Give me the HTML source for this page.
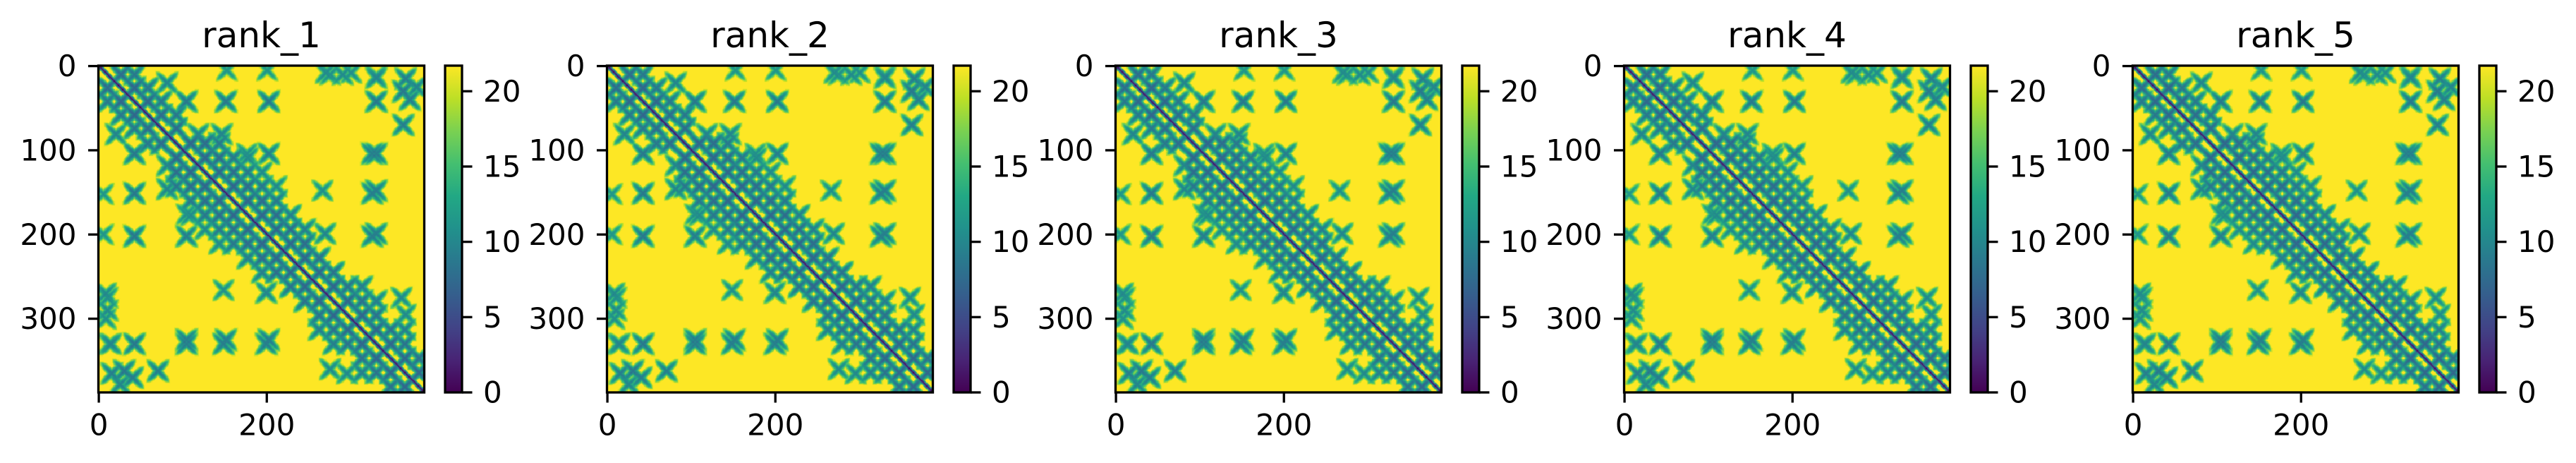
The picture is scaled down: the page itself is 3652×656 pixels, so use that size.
<!DOCTYPE html>
<html><head><meta charset="utf-8">
<style>
html,body{margin:0;padding:0;background:#fff;}
body{width:3652px;height:656px;position:relative;overflow:hidden;font-family:"DejaVu Sans","Liberation Sans",sans-serif;}
canvas.hm{position:absolute;image-rendering:auto;}
svg#ov{position:absolute;left:0;top:0;}
</style></head>
<body>
<svg id="ov" width="3652" height="656"></svg>
<script>
// ---- data ----
const N = 388;
const VMAX = 21.7;
const panelTitles = ["rank_1","rank_2","rank_3","rank_4","rank_5"];
const yTicks = [0,100,200,300];
const xTicks = [0,200];
const cbTicks = [0,5,10,15,20];
// distance value by |i-j| along main diagonal
const diagProfile = [0.5,4,7,11,16];
// increase along an X arm by distance from its centre
const armProfile = [0,0,0,0.3,0.5,0.8,1.2,1.6,2.2,3,4,5.5,7.5];
// increase by lateral distance from arm
const latProfile = [0,1.5,4.5,8.5];
// contact motif centres (residue i, residue j) and min distance
const contactI = [10,26,42,58,74,10,26,42,58,20,81,81,
 92,109,126,143,160,177,194,211,228,245,262,279,296,313,330,347,364,
 92,109,126,143,160,177,194,211,228,245,262,279,296,313,330,347,
 92,109,126,143,160,177,194,262,279,313,109,126,143,
 42,42,42,42,30,14,8,10,5,5,104,104,104,148,148,199,199,151,202,104,
 15,40,70,25,275,295,10,8,12];
const contactJ = [26,42,58,74,92,42,58,74,92,81,118,146,
 109,126,143,160,177,194,211,228,245,262,279,296,313,330,347,364,381,
 126,143,160,177,194,211,228,245,262,279,296,313,330,347,364,381,
 143,160,177,194,211,228,245,313,330,364,177,194,211,
 104,151,202,330,362,330,270,290,200,152,202,330,176,330,266,269,330,325,325,325,
 365,370,362,378,360,365,275,300,330];
const contactD = [7,6.5,6.5,7,7,8,8,8,8,9,9,9,
 6.5,6.5,6.5,6.5,6.5,6.5,6.5,6.5,6.5,6.5,6.5,6.5,6.5,6.5,6.5,6.5,6.5,
 7,7,7,7,7,7,7,7,7.5,7.5,7.5,7.5,7.5,7.5,7.5,7.5,
 8,8,8,8,8,8.5,8.5,8.5,8.5,8.5,9.5,9.5,9.5,
 8,8,8,8,8,9,9.5,9.5,10.5,10.5,8.5,8.5,10,8.5,10,9,8.5,8.5,8.5,8.5,
 8.5,8.5,8.5,9,9.5,9.5,10,10,10];

// ---- build matrix ----
const M = new Float32Array(N*N).fill(VMAX);
function setMin(i,j,v){ if(i<0||j<0||i>=N||j>=N) return; const a=i*N+j,b=j*N+i; if(v<M[a])M[a]=v; if(v<M[b])M[b]=v; }
for(let i=0;i<N;i++) for(let d=0; d<diagProfile.length; d++){ setMin(i,i+d,diagProfile[d]); }
const H = armProfile.length-1, W = latProfile.length-1;
for(let c=0;c<contactI.length;c++){
  const ci=contactI[c], cj=contactJ[c], base=contactD[c];
  for(let t=-H;t<=H;t++){
    const av = base + armProfile[Math.abs(t)];
    for(let dx=-W;dx<=W;dx++) for(let dy=-W;dy<=W;dy++){
      const lv = av + latProfile[Math.max(Math.abs(dx),Math.abs(dy))];
      setMin(ci+t+dx, cj+t+dy, lv);
      setMin(ci+t+dx, cj-t+dy, lv);
    }
  }
}
// viridis
const VIR = ["#440154","#482475","#414487","#355f8d","#2a788e","#21918c","#22a884","#44bf70","#7ad151","#bddf26","#fde725"].map(h=>[parseInt(h.substr(1,2),16),parseInt(h.substr(3,2),16),parseInt(h.substr(5,2),16)]);
function vir(f){ f=Math.max(0,Math.min(1,f)); const p=f*10, k=Math.min(9,Math.floor(p)), r=p-k; const a=VIR[k], b=VIR[k+1]; return [a[0]+(b[0]-a[0])*r, a[1]+(b[1]-a[1])*r, a[2]+(b[2]-a[2])*r]; }

const src = document.createElement('canvas'); src.width=N; src.height=N;
const sctx = src.getContext('2d'); const img = sctx.createImageData(N,N);
for(let i=0;i<N;i++) for(let j=0;j<N;j++){ const col=vir(M[i*N+j]/VMAX); const o=(i*N+j)*4; img.data[o]=col[0]; img.data[o+1]=col[1]; img.data[o+2]=col[2]; img.data[o+3]=255; }
sctx.putImageData(img,0,0);

// ---- layout ----
const ov = document.getElementById('ov');
const NS = "http://www.w3.org/2000/svg";
function mk(tag, attrs, parent){ const e=document.createElementNS(NS,tag); for(const k in attrs) e.setAttribute(k,attrs[k]); (parent||ov).appendChild(e); return e; }
const AX_T=93, AX_H=463, AX_W=462, LW=3.3, TL=14.5;
const ax = L => v => L + (v+0.5)*AX_W/N;
const ay = v => AX_T + (v+0.5)*AX_H/N;
const cy = v => AX_T + AX_H - v/VMAX*AX_H;

panelTitles.forEach((title,k)=>{
  const L = 139.5 + 721*k;
  const xs = ax(L);
  const cv = document.createElement('canvas');
  cv.className='hm'; cv.width=AX_W; cv.height=AX_H;
  cv.style.left=L+'px'; cv.style.top=AX_T+'px';
  
  
  const c = cv.getContext('2d'); c.imageSmoothingEnabled=false; c.drawImage(src,0,0,AX_W,AX_H);
  document.body.insertBefore(cv, ov);

  const g = mk('g',{});
  
  
  const t = mk('text',{x:L+AX_W/2,y:67,'text-anchor':'middle','font-size':50,fill:'#000','font-family':'DejaVu Sans, Liberation Sans, sans-serif'},g);
  t.textContent=title;
  
  
  const fr = mk('rect',{x:L,y:AX_T,width:AX_W,height:AX_H,fill:'none',stroke:'#000','stroke-width':LW},g);
  
  
  yTicks.forEach(v=>{
    const y=ay(v);
    const tk = mk('line',{x1:L-TL,x2:L,y1:y,y2:y,stroke:'#000','stroke-width':LW},g);
    
    
    const tx = mk('text',{x:L-31,y:y,'text-anchor':'end','dominant-baseline':'central','font-size':42,'font-family':'DejaVu Sans, Liberation Sans, sans-serif'},g);
    tx.textContent=v;
    
    
  });
  xTicks.forEach(v=>{
    const x=xs(v);
    const tk = mk('line',{x1:x,x2:x,y1:AX_T+AX_H,y2:AX_T+AX_H+TL,stroke:'#000','stroke-width':LW},g);
    
    
    const tx = mk('text',{x:x,y:602,'text-anchor':'middle','dominant-baseline':'central','font-size':42,'font-family':'DejaVu Sans, Liberation Sans, sans-serif'},g);
    tx.textContent=v;
    
    
  });
  // colorbar
  const gid='cbg'+k;
  const defs = mk('defs',{},g);
  const lg = mk('linearGradient',{id:gid,x1:0,y1:1,x2:0,y2:0},defs);
  for(let s=0;s<=10;s++){ const col=vir(s/10); mk('stop',{offset:s/10,'stop-color':`rgb(${col.map(Math.round).join(',')})`},lg); }
  const CBL = L+491.5, CBW=24;
  const cb = mk('rect',{x:CBL,y:AX_T,width:CBW,height:AX_H,fill:`url(#${gid})`,stroke:'#000','stroke-width':LW},g);
  
  
  cbTicks.forEach(v=>{
    const y=cy(v);
    const tk = mk('line',{x1:CBL+CBW,x2:CBL+CBW+TL,y1:y,y2:y,stroke:'#000','stroke-width':LW},g);
    
    
    const tx = mk('text',{x:CBL+CBW+30,y:y,'text-anchor':'start','dominant-baseline':'central','font-size':42,'font-family':'DejaVu Sans, Liberation Sans, sans-serif'},g);
    tx.textContent=v;
    
    
  });
});
</script>
</body></html>
